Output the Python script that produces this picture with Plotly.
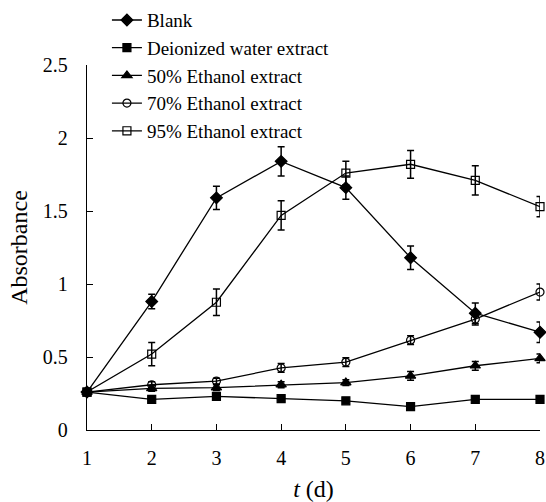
import plotly.graph_objects as go

days = [1, 2, 3, 4, 5, 6, 7, 8]

blank = [0.26, 0.88, 1.59, 1.84, 1.66, 1.18, 0.80, 0.67]
blank_err = [0.0, 0.05, 0.08, 0.10, 0.08, 0.08, 0.07, 0.07]

water = [0.26, 0.21, 0.23, 0.215, 0.20, 0.16, 0.21, 0.21]
water_err = [0.0, 0.01, 0.01, 0.01, 0.01, 0.01, 0.01, 0.01]

eth50 = [0.26, 0.285, 0.29, 0.31, 0.325, 0.37, 0.44, 0.49]
eth50_err = [0.0, 0.02, 0.02, 0.02, 0.02, 0.03, 0.03, 0.03]

eth70 = [0.26, 0.31, 0.335, 0.425, 0.465, 0.615, 0.76, 0.945]
eth70_err = [0.0, 0.02, 0.02, 0.03, 0.03, 0.03, 0.04, 0.055]

eth95 = [0.26, 0.52, 0.875, 1.47, 1.76, 1.82, 1.71, 1.53]
eth95_err = [0.0, 0.08, 0.09, 0.10, 0.08, 0.095, 0.10, 0.07]

names = ["Blank", "Deionized water extract", "50% Ethanol extract",
         "70% Ethanol extract", "95% Ethanol extract"]
symbols = ["diamond", "square", "triangle-up", "circle-open", "square-open"]
sizes = [9, 8, 9, 8, 8]
series = [blank, water, eth50, eth70, eth95]
errors = [blank_err, water_err, eth50_err, eth70_err, eth95_err]

fig = go.Figure()
for name, sym, sz, ys, es in zip(names, symbols, sizes, series, errors):
    fig.add_trace(go.Scatter(
        x=days, y=ys, name=name, mode="lines+markers",
        line=dict(color="black", width=1.3),
        marker=dict(symbol=sym, size=sz, color="black",
                    line=dict(color="black", width=1.2)),
        error_y=dict(type="data", array=es, visible=True,
                     color="black", thickness=1.5, width=3.5),
        cliponaxis=False,
    ))

font = dict(family="Liberation Serif, Times New Roman, serif", size=20, color="black")

fig.update_layout(
    width=546, height=502,
    margin=dict(l=87, r=6, t=65, b=72, autoexpand=False),
    paper_bgcolor="white", plot_bgcolor="white",
    font=font,
    showlegend=True,
    legend=dict(x=0.044, y=1.175, xanchor="left", yanchor="top",
                bgcolor="rgba(0,0,0,0)", font=dict(size=19),
                tracegroupgap=0, itemwidth=30),
    xaxis=dict(range=[1, 8], tickvals=days, ticktext=[str(d) for d in days],
               showline=True, linecolor="black", linewidth=1.3,
               ticks="inside", ticklen=6, tickcolor="black", tickwidth=1.3,
               showgrid=False, zeroline=False, ticklabelstandoff=10,
               automargin=False,
               title=dict(text="<i>t</i> (d)", standoff=13)),
    yaxis=dict(range=[0, 2.5], tickvals=[0, 0.5, 1, 1.5, 2, 2.5],
               ticktext=["0", "0.5", "1", "1.5", "2", "2.5"],
               showline=True, linecolor="black", linewidth=1.3,
               ticks="inside", ticklen=6, tickcolor="black", tickwidth=1.3,
               showgrid=False, zeroline=False, ticklabelstandoff=14,
               automargin=False,
               title=dict(text="Absorbance", standoff=8)),
)

fig.write_html("out.html",
               config={"displayModeBar": False},
               post_script="document.body.style.margin='0';document.body.style.overflow='hidden';")
